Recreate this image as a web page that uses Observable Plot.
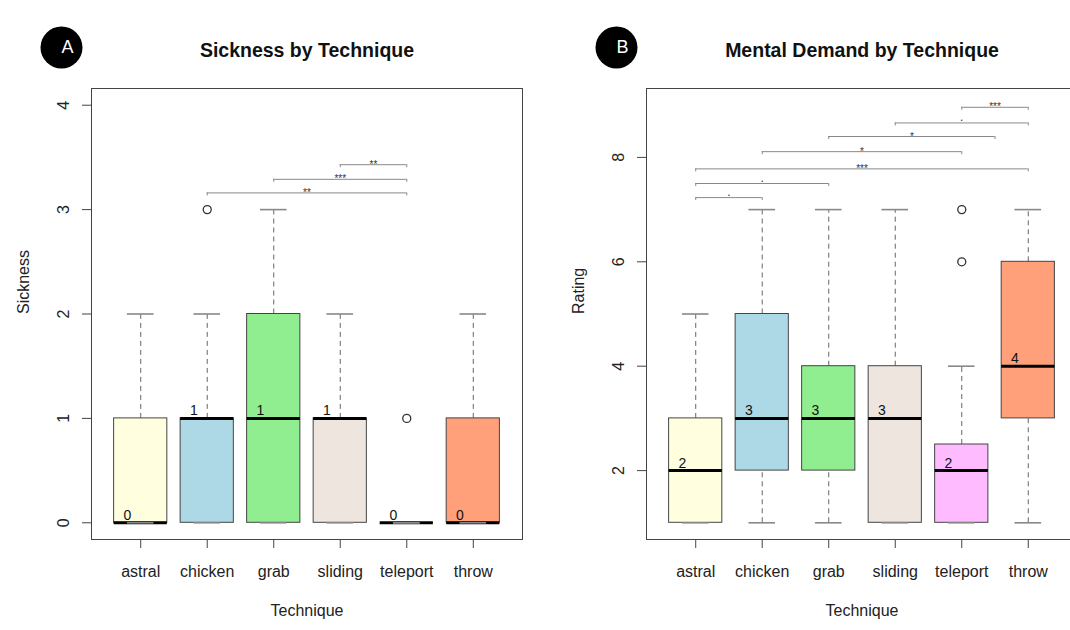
<!DOCTYPE html>
<html><head><meta charset="utf-8">
<script src="https://cdn.jsdelivr.net/npm/d3@7"></script>
<script src="https://cdn.jsdelivr.net/npm/@observablehq/plot@0.6"></script>
<style>
html,body{margin:0;padding:0;background:#fff;overflow:hidden;}
#wrap{position:relative;width:1070px;height:630px;overflow:hidden;background:#fff;}
.panel{position:absolute;top:0;height:630px;}
.panel svg{max-width:none !important;display:block;}
</style></head>
<body>
<div id="wrap"><div id="pa" class="panel" style="left:0;width:535px"></div><div id="pb" class="panel" style="left:535px;width:555px"></div></div>
<script>
const techniques = ["astral", "chicken", "grab", "sliding", "teleport", "throw"];
const boxFills = ["#FFFFE0", "#ADD8E6", "#90EE90", "#EEE5DE", "#FFBBFF", "#FFA07A"];

// Panel A: Sickness
const sickLow    = [0, 0, 0, 0, 0, 0];
const sickQ1     = [0, 0, 0, 0, 0, 0];
const sickMedian = [0, 1, 1, 1, 0, 0];
const sickQ3     = [1, 1, 2, 1, 0, 1];
const sickHigh   = [2, 2, 3, 2, 0, 2];
const sickOutliers = [{t: "chicken", v: 3}, {t: "teleport", v: 1}];
const sickTicks = [0, 1, 2, 3, 4];
const sickComparisons = [
  {x1: 4, x2: 5, y: 3.43, label: "**"},
  {x1: 3, x2: 5, y: 3.29, label: "***"},
  {x1: 2, x2: 5, y: 3.16, label: "**"}
];

// Panel B: Mental Demand
const mentalLow    = [1, 1, 1, 1, 1, 1];
const mentalQ1     = [1, 2, 2, 1, 1, 3];
const mentalMedian = [2, 3, 3, 3, 2, 4];
const mentalQ3     = [3, 5, 4, 4, 2.5, 6];
const mentalHigh   = [5, 7, 7, 7, 4, 7];
const mentalOutliers = [{t: "teleport", v: 6}, {t: "teleport", v: 7}];
const mentalTicks = [2, 4, 6, 8];
const mentalComparisons = [
  {x1: 5, x2: 6,   y: 8.96, label: "***"},
  {x1: 4, x2: 6,   y: 8.66, label: "."},
  {x1: 3, x2: 5.5, y: 8.40, label: "*"},
  {x1: 2, x2: 5,   y: 8.11, label: "*"},
  {x1: 1, x2: 6,   y: 7.78, label: "***"},
  {x1: 1, x2: 3,   y: 7.50, label: "."},
  {x1: 1, x2: 2,   y: 7.23, label: "."}
];

const FONT = "'Liberation Sans', Arial, Helvetica, sans-serif";

function buildRows(lo, q1, med, q3, hi) {
  return techniques.map((t, k) => ({t, i: k + 1, lo: lo[k], q1: q1[k], med: med[k], q3: q3[k], hi: hi[k], fill: boxFills[k]}));
}

function panel({rows, outliers, comps, domain, ticks, ylabel, title, badge, width, marginLeft, marginRight}) {
  const pos = new Map(techniques.map((t, k) => [t, k + 1]));
  const bw = 0.4, sw = 0.2;
  const gray = "#888";
  return Plot.plot({
    width, height: 630,
    marginLeft, marginRight, marginTop: 88, marginBottom: 91,
    x: {domain: [0.26, 6.74]},
    y: {domain},
    color: {type: "identity"},
    style: {fontFamily: FONT, fontSize: "16px", color: "#222", background: "transparent"},
    marks: [
      // whiskers
      Plot.ruleX(rows, {x: "i", y1: "q3", y2: "hi", stroke: "#666", strokeDasharray: "5,4"}),
      Plot.ruleX(rows, {x: "i", y1: "lo", y2: "q1", stroke: "#666", strokeDasharray: "5,4"}),
      // boxes
      Plot.rect(rows, {x1: d => d.i - bw, x2: d => d.i + bw, y1: "q1", y2: "q3", fill: "fill", stroke: "#444", strokeWidth: 1}),
      // medians
      Plot.ruleY(rows, {y: "med", x1: d => d.i - bw, x2: d => d.i + bw, stroke: "#000", strokeWidth: 3}),
      // staples
      Plot.ruleY(rows, {y: "hi", x1: d => d.i - sw, x2: d => d.i + sw, stroke: gray, strokeWidth: 1.6}),
      Plot.ruleY(rows, {y: "lo", x1: d => d.i - sw, x2: d => d.i + sw, stroke: gray, strokeWidth: 1.6}),
      // outliers
      Plot.dot(outliers, {x: d => pos.get(d.t), y: "v", r: 4, stroke: "#333", strokeWidth: 1.3, fill: "none"}),
      // median labels
      Plot.text(rows, {x: d => d.i - 0.2, y: "med", text: d => String(d.med), lineAnchor: "bottom", dy: -3, fontSize: 14, fill: "#111"}),
      // comparison brackets
      Plot.ruleY(comps, {y: "y", x1: "x1", x2: "x2", stroke: gray}),
      Plot.ruleX(comps, {x: "x1", y1: "y", y2: "y", insetBottom: -3, stroke: gray}),
      Plot.ruleX(comps, {x: "x2", y1: "y", y2: "y", insetBottom: -3, stroke: gray}),
      Plot.text(comps, {filter: d => d.label !== ".", x: d => (d.x1 + d.x2) / 2, y: "y", text: "label", fontSize: 10, lineAnchor: "bottom", dy: 3, fill: "#333"}),
      Plot.text(comps, {filter: d => d.label === ".", x: d => (d.x1 + d.x2) / 2, y: "y", text: "label", fontSize: 12, lineAnchor: "bottom", dy: -2, fill: "#333"}),
      // frame and axes
      Plot.frame({stroke: "#444"}),
      Plot.axisY({ticks, tickFormat: d => String(d), tickRotate: -90, tickSize: 9, tickPadding: 14, label: null, stroke: "#444", fontSize: 16}),
      Plot.axisX({ticks: [1, 2, 3, 4, 5, 6], tickFormat: d => techniques[d - 1], tickSize: 9, tickPadding: 17, label: null, stroke: "#444", fontSize: 16}),
      // axis titles
      Plot.text([ylabel], {frameAnchor: "left", dx: -68, rotate: -90, text: d => d, fontSize: 16, lineAnchor: "middle", fill: "#222"}),
      Plot.text(["Technique"], {frameAnchor: "bottom", dy: 71, text: d => d, fontSize: 16, lineAnchor: "middle", fill: "#222"}),
      // title
      Plot.text([title], {frameAnchor: "top", dy: -38, text: d => d, fontSize: 19.5, fontWeight: "bold", lineAnchor: "middle", fill: "#111"}),
      // badge
      Plot.dot([badge], {frameAnchor: "top-left", dx: -30, dy: -41, r: 21, fill: "#000", stroke: "none"}),
      Plot.text([badge], {frameAnchor: "top-left", dx: -30, dy: -41, text: d => d, fontSize: 18, fill: "#fff", lineAnchor: "middle"})
    ]
  });
}

document.getElementById("pa").appendChild(panel({
  rows: buildRows(sickLow, sickQ1, sickMedian, sickQ3, sickHigh),
  outliers: sickOutliers, comps: sickComparisons,
  domain: [-0.16, 4.16], ticks: sickTicks,
  ylabel: "Sickness", title: "Sickness by Technique", badge: "A",
  width: 535, marginLeft: 91, marginRight: 13
}));

document.getElementById("pb").appendChild(panel({
  rows: buildRows(mentalLow, mentalQ1, mentalMedian, mentalQ3, mentalHigh),
  outliers: mentalOutliers, comps: mentalComparisons,
  domain: [0.68, 9.32], ticks: mentalTicks,
  ylabel: "Rating", title: "Mental Demand by Technique", badge: "B",
  width: 555, marginLeft: 111, marginRight: 13
}));
</script>
</body></html>
